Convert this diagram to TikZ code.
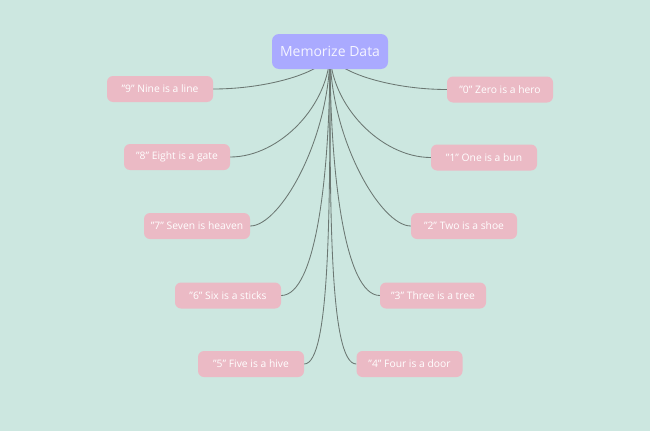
\documentclass[tikz,border=0pt]{standalone}
\usepackage{fontspec}
\setmainfont{Open Sans}
\usetikzlibrary{calc}
\definecolor{bgc}{HTML}{CCE7E0}
\definecolor{pinkc}{HTML}{EBBAC5}
\definecolor{mainc}{HTML}{AAAAFF}
\definecolor{linec}{HTML}{6B7772}
\definecolor{maintext}{HTML}{F4F4FF}
\pgfdeclarelayer{bglayer}
\pgfdeclarelayer{edgelayer}
\pgfsetlayers{bglayer,edgelayer,main}
\tikzset{
  topic/.style={fill=pinkc, text=white, rounded corners=6pt, minimum width=106pt, minimum height=26pt, inner sep=0pt, font=\fontsize{10.3}{12}\selectfont},
  central/.style={fill=mainc, text=maintext, rounded corners=7pt, minimum width=116pt, minimum height=35pt, inner sep=0pt, font=\fontsize{14}{16}\selectfont},
  conn/.style={draw=linec, line width=0.85pt}
}
\begin{document}
\begin{tikzpicture}[x=1pt,y=-1pt]
\useasboundingbox (0,0) rectangle (650,431);
\begin{pgfonlayer}{bglayer}
\fill[bgc] (0,0) rectangle (650,431);
\end{pgfonlayer}
\node[central] (c) at (330,51.5) {Memorize Data};
\node[topic] (n9) at (160,89) {\symbol{34}9\symbol{34} Nine is a line};
\node[topic] (n8) at (177,157) {\symbol{34}8\symbol{34} Eight is a gate};
\node[topic] (n7) at (197,226) {\symbol{34}7\symbol{34} Seven is heaven};
\node[topic] (n6) at (228,295.5) {\symbol{34}6\symbol{34} Six is a sticks};
\node[topic] (n5) at (251,364) {\symbol{34}5\symbol{34} Five is a hive};
\node[topic] (n0) at (500,89.5) {\symbol{34}0\symbol{34} Zero is a hero};
\node[topic] (n1) at (484,157.5) {\symbol{34}1\symbol{34} One is a bun};
\node[topic] (n2) at (464,226) {\symbol{34}2\symbol{34} Two is a shoe};
\node[topic] (n3) at (433,295.5) {\symbol{34}3\symbol{34} Three is a tree};
\node[topic] (n4) at (409.5,364) {\symbol{34}4\symbol{34} Four is a door};
\begin{pgfonlayer}{edgelayer}
\foreach \n/\k in {n9/58, n8/50, n7/30, n6/35, n5/26}
  \draw[conn] (c.center) .. controls ($(c.center)!0.5!(c.center|-\n.east)$) and ([xshift=\k]\n.east) .. (\n.east);
\foreach \n/\k in {n0/58, n1/50, n2/30, n3/35, n4/27}
  \draw[conn] (c.center) .. controls ($(c.center)!0.5!(c.center|-\n.west)$) and ([xshift=-\k]\n.west) .. (\n.west);
\end{pgfonlayer}
\end{tikzpicture}
\end{document}
